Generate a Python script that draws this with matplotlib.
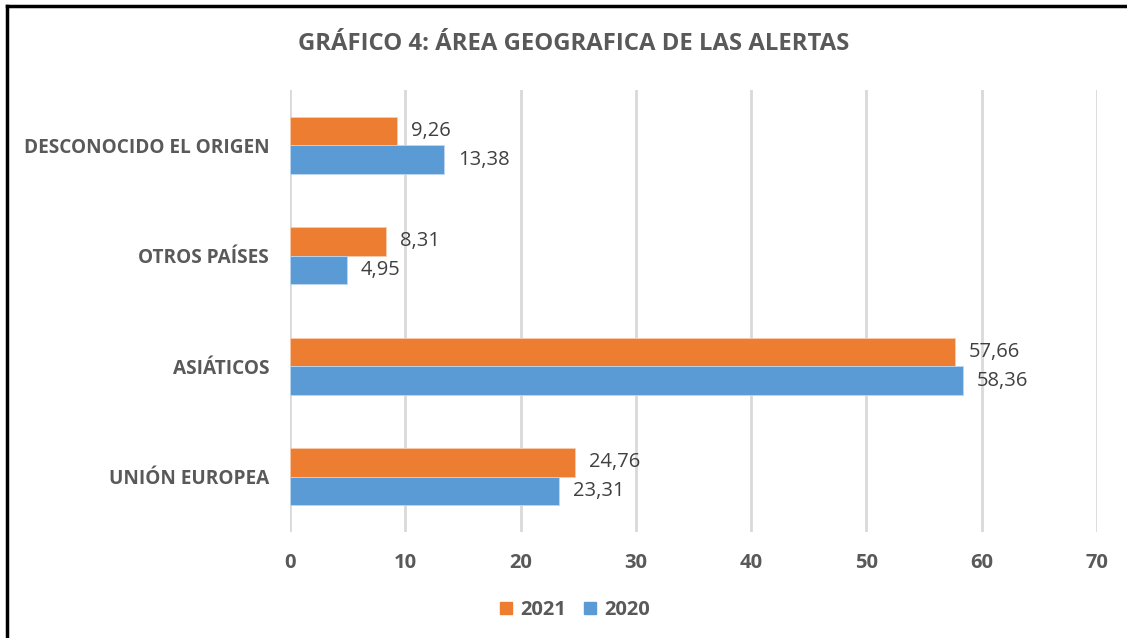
import numpy as np
import matplotlib.pyplot as plt
from matplotlib.lines import Line2D
from matplotlib.patches import Patch

plt.rcParams['font.family'] = ['Open Sans', 'DejaVu Sans']

categories = ['UNIÓN EUROPEA', 'ASIÁTICOS', 'OTROS PAÍSES', 'DESCONOCIDO EL ORIGEN']
values_2021 = [24.76, 57.66, 8.31, 9.26]
values_2020 = [23.31, 58.36, 4.95, 13.38]
xticks = [0, 10, 20, 30, 40, 50, 60, 70]

orange = '#ED7D31'
blue = '#5B9BD5'
grey_text = '#595959'

fig = plt.figure(figsize=(11.27, 6.38), dpi=100)
ax = fig.add_axes([290 / 1127, 1 - 532 / 638, (1097 - 290) / 1127, (532 - 90) / 638])

y = np.arange(len(categories))
h = 0.26
b1 = ax.barh(y + h / 2, values_2021, height=h, color=orange, edgecolor='#F8CBAD', linewidth=0.6, zorder=3)
b2 = ax.barh(y - h / 2, values_2020, height=h, color=blue, edgecolor='#BDD7EE', linewidth=0.6, zorder=3)

for bars, vals in ((b1, values_2021), (b2, values_2020)):
    for rect, v in zip(bars, vals):
        ax.annotate(f'{v:.2f}'.replace('.', ','), (rect.get_width(), rect.get_y() + rect.get_height() / 2),
                    xytext=(10, 0), textcoords='offset points', va='center', ha='left',
                    fontsize=14.5, color='#404040')

ax.set_xlim(0, 70)
ax.set_ylim(-0.5, len(categories) - 0.5)
ax.set_xticks(xticks)
ax.set_yticks(y)
ax.set_yticklabels(categories, fontsize=13.7, fontweight='bold', color=grey_text)
ax.set_xticklabels([str(t) for t in xticks], fontsize=14.5, fontweight='bold', color=grey_text)
ax.tick_params(axis='both', length=0)
ax.tick_params(axis='x', pad=15)
ax.tick_params(axis='y', pad=15)
ax.grid(axis='x', color='#D9D9D9', linewidth=2, zorder=0)
for s in ax.spines.values():
    s.set_visible(False)

fig.text(574 / 1127, 1 - 44 / 638, 'GRÁFICO 4: ÁREA GEOGRAFICA DE LAS ALERTAS', ha='center', va='center',
         fontsize=17.2, fontweight='bold', color=grey_text)

handles = [Patch(color=orange, label='2021'), Patch(color=blue, label='2020')]
leg = fig.legend(handles=handles, loc='center', bbox_to_anchor=(575 / 1127, 1 - 610 / 638), ncol=2,
                 frameon=False, handlelength=0.6, handleheight=0.6, handletextpad=0.4, columnspacing=0.9,
                 prop={'size': 14.5, 'weight': 'bold'})
for t in leg.get_texts():
    t.set_color(grey_text)

fig.add_artist(Line2D([7 / 1127, 7 / 1127], [0, 1 - 6 / 638], color='black', linewidth=2.5))
fig.add_artist(Line2D([7 / 1127, 1], [1 - 6 / 638, 1 - 6 / 638], color='black', linewidth=2.5))

fig.savefig('out.png', dpi=100)
